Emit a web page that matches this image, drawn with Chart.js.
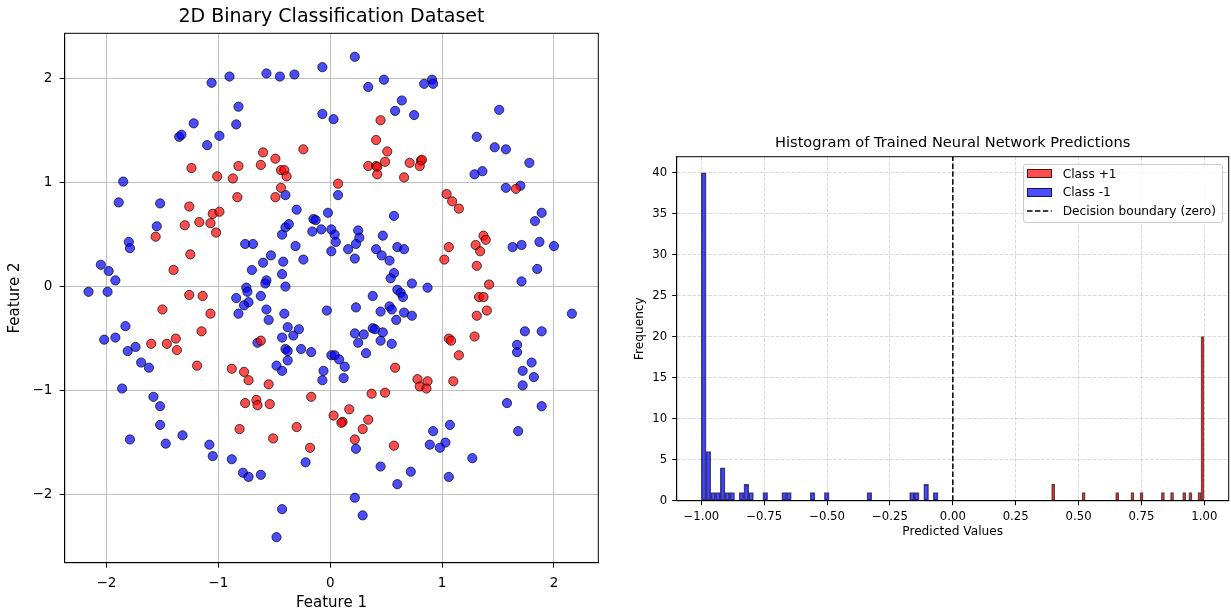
<!DOCTYPE html>
<html>
<head>
<meta charset="utf-8">
<script src="https://cdn.jsdelivr.net/npm/chart.js@4.4.0/dist/chart.umd.min.js"></script>
<style>
  html, body { margin: 0; padding: 0; background: #fff; }
  body { width: 1231px; height: 613px; position: relative; overflow: hidden; font-family: "DejaVu Sans", sans-serif; }
  #scatter { position: absolute; left: 0; top: 0; }
  #hist { position: absolute; left: 615px; top: 0; }
  #histLegend {
    position: absolute; left: 1022.5px; top: 163.5px; width: 200.5px; height: 59px;
    box-sizing: border-box; border: 1px solid #cccccc; border-radius: 3px;
    background: rgba(255, 255, 255, 0.8); font-size: 12.2px; color: #000;
  }
  #histLegend .sw { position: absolute; left: 3.8px; width: 24.7px; height: 8.7px; box-sizing: border-box; border: 1px solid rgba(0, 0, 0, 0.7); }
  #histLegend .lb { position: absolute; left: 39.2px; height: 14px; line-height: 14px; white-space: nowrap; }
  #histLegend svg { position: absolute; left: 3.8px; }
</style>
</head>
<body>
<canvas id="scatter" width="615" height="613"></canvas>
<canvas id="hist" width="616" height="613"></canvas>
<div id="histLegend">
  <div class="sw" style="top:4.85px;background:rgba(255,0,0,0.7)"></div>
  <div class="lb" style="top:2.2px">Class +1</div>
  <div class="sw" style="top:23.45px;background:rgba(0,0,255,0.7)"></div>
  <div class="lb" style="top:20.8px">Class -1</div>
  <svg width="25" height="4" style="top:44.8px"><line x1="0" y1="2" x2="24.7" y2="2" stroke="#000" stroke-width="1.5" stroke-dasharray="5.5,2.4"/></svg>
  <div class="lb" style="top:39.8px">Decision boundary (zero)</div>
</div>
<script>
// scatter: class +1 (red)
const posX = [
  -0.60, -0.49, -0.24, -0.62, -0.82, -1.24, -1.01, -0.87, -0.44, -0.41, -0.39, -0.44, -0.49, -0.83, -1.26, -1.05, -0.99, -1.07, -1.17, -1.30, -1.02, -1.56, -1.25, -1.40,
  0.45, 0.41, 0.51, 0.49, 0.34, 0.41, 0.42, 0.42, 0.71, 0.66, 0.81, 0.82, 0.80, 0.07, 1.04, 1.09, 1.15, 1.66, 1.37, 1.39, 1.30, 1.34, 1.06, 1.02, 1.31, 1.42,
  -1.26, -1.14, -1.50, -1.07, -1.15, -1.60, -1.46, -1.38, -1.37, -1.19, -0.88, -0.77, -0.73, -0.55, -0.62, -0.76, -0.66, -0.65, -0.54, -0.17, -0.81, -0.51, -0.30, -0.18,
  1.33, 1.37, 1.40, 1.31, 1.29, 1.06, 1.08, 1.15, 0.58, 1.10, 0.78, 0.87, 0.80, 0.86, 0.37, 0.49, 0.03, 0.17, 0.11, 0.10, 0.34, 0.29, 0.22, 0.57
];
const posY = [
  1.29, 1.23, 1.32, 1.17, 1.16, 1.14, 1.06, 1.04, 1.12, 1.12, 1.06, 0.95, 0.86, 0.86, 0.77, 0.70, 0.72, 0.61, 0.62, 0.59, 0.52, 0.48, 0.31, 0.16,
  1.60, 1.41, 1.30, 1.20, 1.16, 1.16, 1.15, 1.08, 1.19, 1.05, 1.21, 1.22, 1.16, 0.99, 0.89, 0.82, 0.75, 0.94, 0.49, 0.45, 0.40, 0.34, 0.38, 0.26, 0.20, 0.02,
  -0.08, -0.09, -0.22, -0.26, -0.43, -0.55, -0.55, -0.50, -0.61, -0.76, -0.79, -0.82, -0.90, -0.94, -0.52, -1.12, -1.09, -1.14, -1.13, -1.06, -1.37, -1.46, -1.35, -1.55,
  -0.10, -0.10, -0.23, -0.28, -0.48, -0.50, -0.52, -0.66, -0.78, -0.91, -0.89, -0.91, -0.96, -0.98, -1.03, -1.02, -1.24, -1.18, -1.30, -1.31, -1.28, -1.37, -1.47, -1.53
];
// scatter: class -1 (blue)
const negX = [
  -1.06, -0.90, -0.57, -0.45, -0.32, -0.07, -0.82, -0.07, -1.22, -0.84, -1.35, -1.33, -0.99, -1.10, -1.85, -1.89, -1.52, -0.40, -0.30, -0.02,
  -1.55, -1.80, -1.79, -0.76, -0.69, -0.53, -0.43, -0.40, -0.37, -0.15, -0.13, -0.16, -0.08, -0.31, -0.60, -0.42, -0.24, -0.70, -0.43, -0.57,
  -0.58, -0.40, -0.75, -0.74, -2.05, -1.98, -1.92, -2.16, -1.99,
  0.22, 0.34, 0.48, 0.84, 0.91, 0.92, 0.64, 0.58, 0.75, 0.03, 1.51, 1.31, 1.47, 1.57, 1.78, 1.29, 1.36, 1.57, 1.70, 0.07,
  0.57, 1.89, 1.83, 0.25, 0.26, 0.01, 0.04, 0.05, 0.47, 0.23, 0.16, 0.01, 0.41, 0.46, 0.60, 0.66, 0.53, 0.22, 0.57, 0.54,
  0.73, 0.87, 0.60, 0.63, 1.63, 1.71, 1.87, 2.00, 1.85, 1.71,
  -0.84, -0.62, -0.77, -0.73, -0.82, -0.57, -0.55, -0.41, -0.38, -0.28, -0.33, -0.43, -0.65, -0.40, -0.38, -0.38, -0.26, -0.17, -0.48, -0.43,
  -0.03, -0.06, -0.07, -1.83, -1.92, -2.02, -1.74, -1.81, -1.69, -1.62, -1.86, -1.58, -1.52, -1.52, -1.79, -1.47, -1.32, -1.08, -1.05, -0.88,
  -0.78, -0.73, -0.62, -0.22, -0.43, -0.48,
  0.38, 0.65, 0.23, 0.45, 0.53, 0.55, 0.66, 0.73, 0.59, 0.38, 0.40, 0.22, 0.30, 0.25, 0.47, 0.45, 0.55, 0.32, 0.01, 0.04,
  0.08, 0.13, 0.12, 2.16, 1.74, 1.89, 1.67, 1.67, 1.80, 1.72, 1.82, 1.72, 1.58, 1.89, 1.68, 1.07, 0.92, 1.03, 0.89, 0.98,
  1.27, 1.06, 0.45, 0.72, 0.60, 0.23, 0.22, 0.29
];
const negY = [
  1.96, 2.02, 2.05, 2.02, 2.04, 2.11, 1.73, 1.66, 1.57, 1.56, 1.44, 1.46, 1.45, 1.36, 1.01, 0.81, 0.80, 0.88, 0.74, 0.71,
  0.58, 0.43, 0.37, 0.41, 0.41, 0.30, 0.50, 0.57, 0.60, 0.65, 0.64, 0.53, 0.55, 0.39, 0.23, 0.24, 0.26, 0.16, 0.12, 0.06,
  0.03, 0.00, -0.01, -0.05, 0.21, 0.15, 0.06, -0.05, -0.05,
  2.21, 1.92, 1.99, 1.95, 1.99, 1.95, 1.79, 1.69, 1.65, 1.61, 1.70, 1.44, 1.34, 1.32, 1.19, 1.08, 1.11, 0.95, 0.97, 0.88,
  0.68, 0.71, 0.63, 0.54, 0.47, 0.55, 0.50, 0.43, 0.49, 0.41, 0.36, 0.34, 0.36, 0.30, 0.38, 0.36, 0.25, 0.27, 0.13, 0.08,
  0.03, -0.01, -0.03, -0.06, 0.38, 0.40, 0.43, 0.39, 0.17, 0.05,
  -0.11, -0.09, -0.18, -0.15, -0.26, -0.22, -0.32, -0.26, -0.39, -0.41, -0.47, -0.49, -0.54, -0.60, -0.62, -0.71, -0.60, -0.63, -0.76, -0.81,
  -0.23, -0.81, -0.90, -0.38, -0.49, -0.51, -0.58, -0.62, -0.73, -0.78, -0.98, -1.06, -1.15, -1.33, -1.47, -1.51, -1.43, -1.52, -1.63, -1.66,
  -1.79, -1.83, -1.81, -1.69, -2.14, -2.41,
  -0.09, -0.10, -0.20, -0.24, -0.19, -0.22, -0.25, -0.28, -0.32, -0.40, -0.41, -0.45, -0.46, -0.54, -0.44, -0.52, -0.55, -0.64, -0.66, -0.66,
  -0.70, -0.77, -0.88, -0.26, -0.43, -0.43, -0.56, -0.63, -0.73, -0.81, -0.87, -0.95, -1.12, -1.15, -1.39, -1.33, -1.39, -1.50, -1.52, -1.55,
  -1.65, -1.83, -1.73, -1.78, -1.90, -1.56, -2.03, -2.20
];
const scatterTicks = [-2, -1, 0, 1, 2];

// histogram: 50 bins per class, counts
const blueCounts = [
  40, 6, 1, 1, 4, 1, 1, 0, 1, 2,
  1, 0, 0, 1, 0, 0, 0, 1, 1, 0,
  0, 0, 0, 1, 0, 0, 1, 0, 0, 0,
  0, 0, 0, 0, 0, 1, 0, 0, 0, 0,
  0, 0, 0, 0, 1, 1, 0, 2, 0, 1
];
const redCounts = [
  2, 0, 0, 0, 0, 0, 0, 0, 0, 0,
  1, 0, 0, 0, 0, 0, 0, 0, 0, 0,
  0, 1, 0, 0, 0, 0, 1, 0, 0, 1,
  0, 0, 0, 0, 0, 0, 1, 0, 0, 1,
  0, 0, 0, 1, 0, 1, 0, 0, 1, 20
];
const blueRange = [-1.0, -0.059];
const redRange = [0.393, 0.999];
const boundaryX = 0;
const histXTicks = [-1, -0.75, -0.5, -0.25, 0, 0.25, 0.5, 0.75, 1];
const histYTicks = [0, 5, 10, 15, 20, 25, 30, 35, 40];

const RED = 'rgba(255, 0, 0, 0.7)';
const BLUE = 'rgba(0, 0, 255, 0.7)';
const EDGE = 'rgba(0, 0, 0, 0.7)';

Chart.defaults.font.family = "'DejaVu Sans', sans-serif";
Chart.defaults.color = '#000';
Chart.defaults.animation = false;

function toPoints(xs, ys) {
  return xs.map((x, i) => ({ x: x, y: ys[i] }));
}

function binBars(counts, range) {
  const w = (range[1] - range[0]) / counts.length;
  return counts
    .map((c, i) => ({ x: range[0] + (i + 0.5) * w, y: c }))
    .filter(p => p.y > 0);
}

function minus(v, digits) {
  const s = digits ? Math.abs(v).toFixed(digits) : String(Math.abs(v));
  return (v < 0 ? '\u2212' : '') + s;
}

function fixTicks(list) {
  return scale => { scale.ticks = list.map(v => ({ value: v })); };
}

// black box around the plot area, like matplotlib spines
const frame = {
  id: 'frame',
  afterDatasetsDraw(chart) {
    const { ctx, chartArea } = chart;
    ctx.save();
    ctx.strokeStyle = '#000';
    ctx.lineWidth = 1;
    ctx.strokeRect(chartArea.left, chartArea.top, chartArea.right - chartArea.left, chartArea.bottom - chartArea.top);
    ctx.restore();
  }
};

new Chart(document.getElementById('scatter'), {
  type: 'scatter',
  data: {
    datasets: [
      {
        label: 'Class +1',
        data: toPoints(posX, posY),
        backgroundColor: RED,
        borderColor: EDGE,
        borderWidth: 1,
        pointRadius: 4.6
      },
      {
        label: 'Class -1',
        data: toPoints(negX, negY),
        backgroundColor: BLUE,
        borderColor: EDGE,
        borderWidth: 1,
        pointRadius: 4.6
      }
    ]
  },
  options: {
    responsive: false,
    events: [],
    layout: { padding: { left: 0, right: 16.7, top: 0, bottom: 0 } },
    plugins: {
      legend: { display: false },
      tooltip: { enabled: false },
      title: {
        display: true,
        text: '2D Binary Classification Dataset',
        fullSize: false,
        font: { size: 19, weight: 'normal' },
        padding: { top: 5.6, bottom: 4.9 }
      }
    },
    scales: {
      x: {
        type: 'linear',
        min: -2.373,
        max: 2.396,
        afterBuildTicks: fixTicks(scatterTicks),
        afterFit: s => { s.height = 50.3; },
        ticks: { callback: v => minus(v), font: { size: 13.5 }, padding: 7.4, maxRotation: 0, autoSkip: false },
        grid: { color: 'rgba(176,176,176,0.8)', lineWidth: 1, tickColor: '#000', tickLength: 5, tickWidth: 1 },
        border: { color: '#000', width: 1 },
        title: { display: true, text: 'Feature 1', font: { size: 15 }, padding: { top: 0, bottom: 0.7 } }
      },
      y: {
        type: 'linear',
        min: -2.655,
        max: 2.436,
        afterBuildTicks: fixTicks(scatterTicks),
        afterFit: s => { s.width = 64.7; },
        ticks: { callback: v => minus(v), font: { size: 13.5 }, padding: 7.4, autoSkip: false },
        grid: { color: 'rgba(176,176,176,0.8)', lineWidth: 1, tickColor: '#000', tickLength: 5, tickWidth: 1 },
        border: { color: '#000', width: 1 },
        title: { display: true, text: 'Feature 2', font: { size: 15 }, padding: { top: 6, bottom: 0 } }
      }
    }
  },
  plugins: [frame]
});

const histGrid = { color: 'rgba(176,176,176,0.6)', lineWidth: 0.8, tickColor: '#000', tickLength: 4.5, tickWidth: 1 };

new Chart(document.getElementById('hist'), {
  type: 'bar',
  data: {
    datasets: [
      {
        label: 'Class +1',
        data: binBars(redCounts, redRange),
        xAxisID: 'x2',
        backgroundColor: RED,
        borderColor: EDGE,
        borderWidth: 1,
        borderSkipped: false,
        barPercentage: 1,
        categoryPercentage: 1,
        grouped: false
      },
      {
        label: 'Class -1',
        data: binBars(blueCounts, blueRange),
        xAxisID: 'x',
        backgroundColor: BLUE,
        borderColor: EDGE,
        borderWidth: 1,
        borderSkipped: false,
        barPercentage: 1,
        categoryPercentage: 1,
        grouped: false
      },
      {
        type: 'line',
        label: 'Decision boundary (zero)',
        data: [{ x: boundaryX, y: 0 }, { x: boundaryX, y: 42 }],
        xAxisID: 'x',
        borderColor: '#000',
        borderWidth: 1.5,
        borderDash: [5.5, 2.4],
        pointRadius: 0,
        fill: false
      }
    ]
  },
  options: {
    responsive: false,
    events: [],
    layout: { padding: { left: 0, right: 2.3, top: 130.2, bottom: 0 } },
    plugins: {
      legend: { display: false },
      tooltip: { enabled: false },
      title: {
        display: true,
        text: 'Histogram of Trained Neural Network Predictions',
        fullSize: false,
        font: { size: 14.6, weight: 'normal' },
        padding: { top: 4, bottom: 5 }
      }
    },
    scales: {
      x: {
        type: 'linear',
        min: -1.098,
        max: 1.097,
        offset: false,
        afterBuildTicks: fixTicks(histXTicks),
        afterFit: s => { s.height = 112.3; },
        ticks: { callback: v => minus(v, 2), font: { size: 11.7 }, padding: 4.7, maxRotation: 0, autoSkip: false },
        grid: Object.assign({ offset: false }, histGrid),
        border: { color: '#000', width: 1, dash: [3.6, 1.6] },
        title: { display: true, text: 'Predicted Values', font: { size: 12.2 }, padding: { top: 0, bottom: 73.5 } }
      },
      x2: {
        type: 'linear',
        display: false,
        min: -1.098,
        max: 1.097,
        offset: false,
        grid: { offset: false }
      },
      y: {
        type: 'linear',
        min: 0,
        max: 41.95,
        afterBuildTicks: fixTicks(histYTicks),
        afterFit: s => { s.width = 61.7; },
        ticks: { font: { size: 11.7 }, padding: 5, autoSkip: false },
        grid: histGrid,
        border: { color: '#000', width: 1, dash: [3.6, 1.6] },
        title: { display: true, text: 'Frequency', font: { size: 12.2 }, padding: { top: 17.8, bottom: 0 } }
      }
    }
  },
  plugins: [frame]
});
</script>
</body>
</html>
